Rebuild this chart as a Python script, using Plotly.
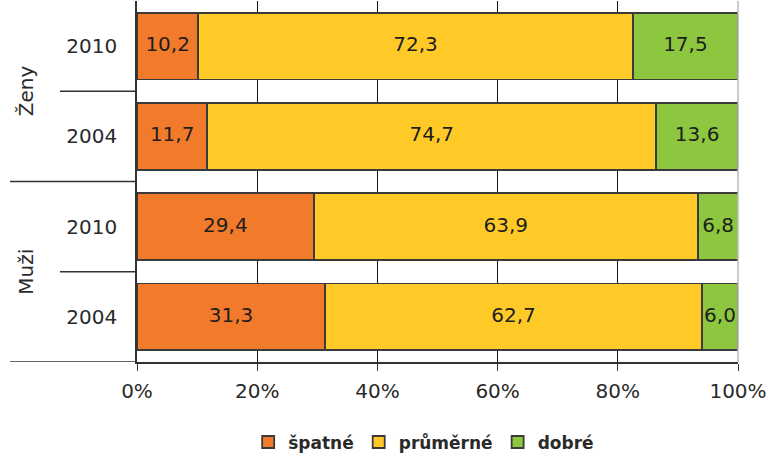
import plotly.graph_objects as go

groups = ["Ženy", "Ženy", "Muži", "Muži"]
years = ["2010", "2004", "2010", "2004"]
spatne = [10.2, 11.7, 29.4, 31.3]
prumerne = [72.3, 74.7, 63.9, 62.7]
dobre = [17.5, 13.6, 6.8, 6.0]
series_names = ["špatné", "průměrné", "dobré"]
colors = ["#F27A2B", "#FFCA28", "#8DC63F"]
x_ticks = [0, 20, 40, 60, 80, 100]

ypos = [0, 1, 2, 3]
FONT = "DejaVu Sans, Verdana, sans-serif"

fig = go.Figure()
series = [spatne, prumerne, dobre]
base = [0.0] * len(ypos)
label_x, label_y, label_t = [], [], []
for name, vals, col in zip(series_names, series, colors):
    fig.add_trace(go.Bar(
        y=ypos, x=vals, orientation="h", name=name,
        marker=dict(color=col, line=dict(color="#3a3a3a", width=1.8)),
        width=0.74, hoverinfo="x+name",
    ))
    for i, v in enumerate(vals):
        label_x.append(base[i] + v / 2)
        label_y.append(ypos[i])
        label_t.append(f"{v:.1f}".replace(".", ","))
        base[i] += v

fig.add_trace(go.Scatter(
    x=label_x, y=label_y, text=label_t, mode="text", showlegend=False,
    textfont=dict(family=FONT, size=20, color="#1e1e1e"), cliponaxis=False,
    hoverinfo="skip",
))

fig.update_layout(
    barmode="stack",
    width=771, height=456,
    margin=dict(l=137, r=33, t=1, b=94, autoexpand=False),
    plot_bgcolor="white", paper_bgcolor="white",
    font=dict(family=FONT, size=20, color="#2a2a2a"),
    showlegend=True,
    legend=dict(orientation="h", x=0.477, xanchor="center", y=-0.173, yanchor="top",
                font=dict(size=17, family=FONT, weight="bold", color="#2a2a2a"),
                itemwidth=30, traceorder="normal"),
    xaxis=dict(range=[0, 100], tickvals=x_ticks, ticktext=[f"{t}%" for t in x_ticks],
               showgrid=True, gridcolor="#111", gridwidth=1,
               showline=True, linecolor="#333", linewidth=1.5,
               ticks="outside", ticklen=7, tickcolor="#333", zeroline=False,
               ticklabelstandoff=3, automargin=False, tickfont=dict(size=20)),
    yaxis=dict(range=[3.5, -0.5], tickvals=ypos, ticktext=years,
               showgrid=False, showline=True, linecolor="#333", linewidth=1.5,
               ticks="", ticklabelstandoff=14, zeroline=False,
               automargin=False, tickfont=dict(size=20)),
)

# right border
fig.add_shape(type="line", xref="paper", yref="paper", x0=1, x1=1, y0=0, y1=1,
              line=dict(color="#bbbbbb", width=1.5))
# category dividers
for yv in (0.5, 2.5):
    fig.add_shape(type="line", xref="paper", yref="y", x0=-77/601, x1=0, y0=yv, y1=yv,
                  line=dict(color="#333", width=1.5))
for yv in (1.5, 3.5):
    fig.add_shape(type="line", xref="paper", yref="y", x0=-127/601, x1=0, y0=yv, y1=yv,
                  line=dict(color="#333", width=1.5))

for g, yc in [(groups[0], 0.5), (groups[2], 2.5)]:
    fig.add_annotation(text=g, xref="paper", yref="y", x=-125/601, y=yc,
                       showarrow=False, textangle=-90,
                       font=dict(size=20, color="#2a2a2a", family=FONT))

fig.write_html("out.html", config={"displayModeBar": False},
               post_script="document.body.style.margin='0';")
